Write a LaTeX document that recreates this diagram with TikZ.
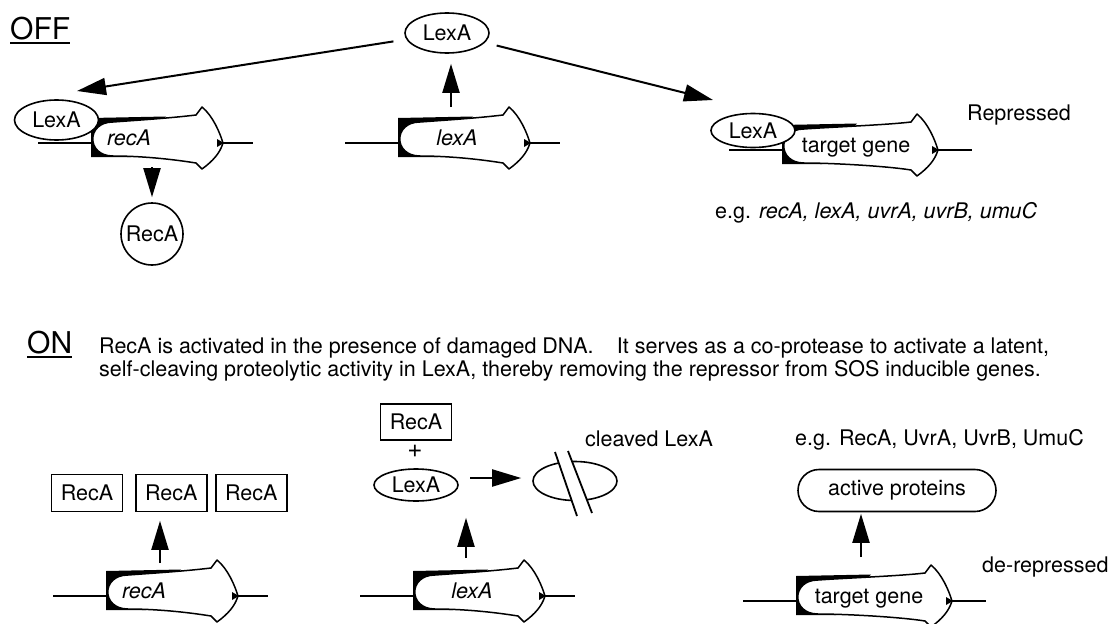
\documentclass[tikz,border=0pt]{standalone}
\usepackage{fontspec}
\setmainfont{TeX Gyre Heros}
\usetikzlibrary{arrows.meta,shapes.geometric}
\tikzset{
  lbl/.style={font=\fontsize{21.5}{24}\selectfont, inner sep=0pt},
  big/.style={font=\fontsize{30}{32}\selectfont, inner sep=0pt},
  prot/.style={ellipse, draw, line width=1.6pt, fill=white, minimum width=84pt, minimum height=40pt, inner sep=0pt, lbl},
  pbox/.style={rectangle, draw, line width=1.6pt, fill=white, minimum width=71pt, minimum height=37pt, inner sep=0pt, lbl},
  arr/.style={line width=2pt, -{Triangle[length=29pt,width=17pt]}},
  dna/.style={line width=2pt},
  ulin/.style={line width=1.5pt},
  pics/gene/.style n args={4}{code={
    \pgfmathsetmacro\gn{#1}
    \pgfmathsetmacro\ga{#1-21}
    \pgfmathsetmacro\gt{#1+#4}
    \draw[dna] (-53,0) -- (\gt,0);
    \fill (0,-25) -- (75,-26.5) -- (40,14) -- (0,14) -- cycle;
    \path[fill=white, draw=black, line width=1.5pt, line join=round]
      (22,-21) .. controls (50,-23) and (\ga-31,-25) .. (\ga-6,-28)
      -- (\ga,-36)
      .. controls (\ga+11,-27) and (\gn-3,-10) .. (\gn,0)
      .. controls (\gn-3,10) and (\ga+11,18) .. (\ga,26)
      -- (\ga-6,20)
      .. controls (\ga-31,16) and (50,13) .. (22,13)
      .. controls (-5,13) and (-5,-21) .. (22,-21) -- cycle;
    \fill (\gn-6,-4) -- (\gn+1,0) -- (\gn-6,4) -- cycle;
    \node[lbl, anchor=base] (-lbl) at (#3,2) {#2};
  }}
}
\begin{document}
\begin{tikzpicture}[x=1pt, y=-1pt]
\useasboundingbox (0,0) rectangle (1112,624);
\fill[white] (0,0) rectangle (1112,624);

% ---------------- OFF ----------------
\node[big, anchor=base west] (off) at (10,39) {OFF};
\draw[ulin] ([yshift=-4pt]off.base west) -- ([yshift=-4pt]off.base east);

\node[prot] (lexTop) at (447,33) {LexA};

\pic (gRecOff) at (91,143) {gene={132}{\itshape recA}{38}{30}};
\node[prot] (lexL) at (56.5,120) {LexA};
\node[circle, draw, line width=1.6pt, minimum size=62pt, inner sep=0pt, lbl] (recCirc) at (152,234) {RecA};
\coordinate (d1) at (152,167);
\draw[arr, shorten >=5pt] (d1) -- (recCirc);

\pic (gLexOff) at (398,143) {gene={132}{\itshape lexA}{59}{30}};
\coordinate (u1) at (451,107);
\draw[arr, shorten >=10pt] (u1) -- (u1 |- lexTop.south);

\pic (gTgtOff) at (782,150) {gene={156}{target gene}{74}{34}};
\node[prot, minimum height=34pt] (lexT) at (753,130.5) {LexA};

\coordinate (t1) at (77,91);
\coordinate (t2) at (713,100);
\draw[arr, shorten <=13pt] (lexTop) -- (t1);
\draw[arr, shorten <=12pt] (lexTop) -- (t2);

\node[lbl, anchor=base west] (repr) at (967,120) {Repressed};
\node[lbl, anchor=base west] (eg1) at (715,218) {e.g. \textit{recA, lexA, uvrA, uvrB, umuC}};

% ---------------- ON ----------------
\node[big, anchor=base west] (on) at (27,353) {ON};
\draw[ulin] ([yshift=-4pt]on.base west) -- ([yshift=-4pt]on.base east);
\node[lbl, anchor=base west] (para1) at (99,353)
  {RecA is activated in the presence of damaged DNA.\hspace{0.8em} It serves as a co-protease to activate a latent,};
\node[lbl, anchor=base west] (para2) at (99,376)
  {self-cleaving proteolytic activity in LexA, thereby removing the repressor from SOS inducible genes.};

% recA on
\node[pbox] (box1) at (87,493) {RecA};
\node[pbox] (box2) at (171.3,493) {RecA};
\node[pbox] (box3) at (251.3,493) {RecA};
\pic (gRecOn) at (106,596) {gene={132}{\itshape recA}{38}{30}};
\coordinate (u2) at (160,563);
\draw[arr, shorten >=8.5pt] (u2) -- (u2 |- box2.south);

% lexA on
\node[pbox, minimum height=36pt] (box4) at (416,422) {RecA};
\node[lbl, font=\fontsize{26}{28}\selectfont] (plus) at (415,451) {+};
\node[prot, minimum height=32pt] (lexOn) at (416,485) {LexA};
\node[ellipse, draw, line width=1.6pt, minimum width=84pt, minimum height=39pt, inner sep=0pt] (cleaved) at (575,481) {};
\fill[white] (555,452) -- (568,451) -- (592,513) -- (577,516) -- cycle;
\draw[line width=1.8pt] (555,452) -- (577,516);
\draw[line width=1.8pt] (568,451) -- (592,513);
\coordinate (r1) at (470,478);
\draw[arr, shorten >=11pt] (r1) -- (r1 -| cleaved.west);
\node[lbl, anchor=base west] (clv) at (585,446) {cleaved LexA};
\pic (gLexOn) at (413,596) {gene={132}{\itshape lexA}{59}{30}};
\coordinate (u3) at (466,558);
\draw[arr, shorten >=16pt] (u3) -- (u3 |- lexOn.south);

% target on
\node[lbl, anchor=base west] (eg2) at (795,445) {e.g. RecA, UvrA, UvrB, UmuC};
\node[rectangle, rounded corners=21pt, draw, line width=1.6pt, minimum width=198pt, minimum height=42pt, inner sep=0pt, lbl] (act) at (897,490.5) {active proteins};
\pic (gTgtOn) at (796,601) {gene={156}{target gene}{73}{34}};
\coordinate (u4) at (861,557);
\draw[arr, shorten >=1.5pt] (u4) -- (u4 |- act.south);
\node[lbl, anchor=base west] (derep) at (982,572) {de-repressed};
\end{tikzpicture}
\end{document}
